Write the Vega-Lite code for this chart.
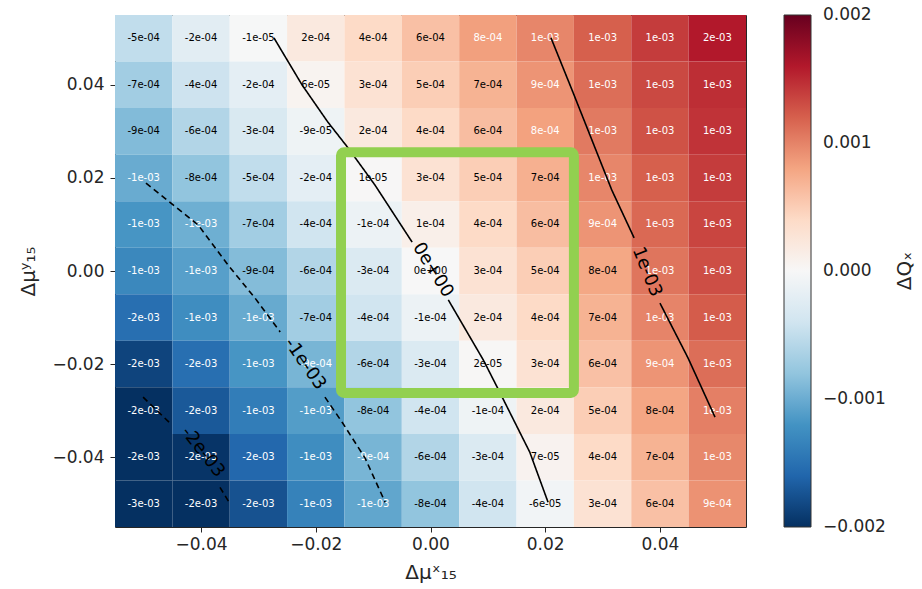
{
  "$schema": "https://vega.github.io/schema/vega-lite/v6.json",
  "width": 631,
  "height": 512,
  "autosize": {"type": "none"},
  "padding": {"left": 115, "top": 15, "right": 176, "bottom": 62},
  "background": "white",
  "config": {
    "view": {"stroke": "#262626", "strokeWidth": 1},
    "font": "DejaVu Sans",
    "axis": {
      "labelFont": "DejaVu Sans", "labelFontSize": 17, "labelColor": "#262626",
      "tickColor": "#262626", "tickSize": 5, "tickWidth": 1,
      "domain": false, "grid": false,
      "titleFont": "DejaVu Sans", "titleFontSize": 20, "titleFontWeight": "normal", "titleColor": "#262626"
    },
    "legend": {
      "labelFont": "DejaVu Sans", "labelFontSize": 17, "labelColor": "#262626",
      "titleFont": "DejaVu Sans", "titleFontSize": 20, "titleFontWeight": "normal", "titleColor": "#262626"
    }
  },
  "datasets": {
    "cells": [
      {"x": -0.05, "y": 0.05, "v": -0.00050}, {"x": -0.04, "y": 0.05, "v": -0.00022}, {"x": -0.03, "y": 0.05, "v": -0.00001}, {"x": -0.02, "y": 0.05, "v": 0.00020}, {"x": -0.01, "y": 0.05, "v": 0.00040}, {"x": 0, "y": 0.05, "v": 0.00060}, {"x": 0.01, "y": 0.05, "v": 0.00083}, {"x": 0.02, "y": 0.05, "v": 0.00098}, {"x": 0.03, "y": 0.05, "v": 0.00120}, {"x": 0.04, "y": 0.05, "v": 0.00140}, {"x": 0.05, "y": 0.05, "v": 0.00160},
      {"x": -0.05, "y": 0.04, "v": -0.00070}, {"x": -0.04, "y": 0.04, "v": -0.00042}, {"x": -0.03, "y": 0.04, "v": -0.00020}, {"x": -0.02, "y": 0.04, "v": 0.00006}, {"x": -0.01, "y": 0.04, "v": 0.00030}, {"x": 0, "y": 0.04, "v": 0.00050}, {"x": 0.01, "y": 0.04, "v": 0.00070}, {"x": 0.02, "y": 0.04, "v": 0.00090}, {"x": 0.03, "y": 0.04, "v": 0.00112}, {"x": 0.04, "y": 0.04, "v": 0.00133}, {"x": 0.05, "y": 0.04, "v": 0.00148},
      {"x": -0.05, "y": 0.03, "v": -0.00088}, {"x": -0.04, "y": 0.03, "v": -0.00060}, {"x": -0.03, "y": 0.03, "v": -0.00032}, {"x": -0.02, "y": 0.03, "v": -0.00009}, {"x": -0.01, "y": 0.03, "v": 0.00020}, {"x": 0, "y": 0.03, "v": 0.00040}, {"x": 0.01, "y": 0.03, "v": 0.00062}, {"x": 0.02, "y": 0.03, "v": 0.00082}, {"x": 0.03, "y": 0.03, "v": 0.00105}, {"x": 0.04, "y": 0.03, "v": 0.00128}, {"x": 0.05, "y": 0.03, "v": 0.00145},
      {"x": -0.05, "y": 0.02, "v": -0.00101}, {"x": -0.04, "y": 0.02, "v": -0.00080}, {"x": -0.03, "y": 0.02, "v": -0.00050}, {"x": -0.02, "y": 0.02, "v": -0.00020}, {"x": -0.01, "y": 0.02, "v": 0.00001}, {"x": 0, "y": 0.02, "v": 0.00030}, {"x": 0.01, "y": 0.02, "v": 0.00050}, {"x": 0.02, "y": 0.02, "v": 0.00072}, {"x": 0.03, "y": 0.02, "v": 0.00098}, {"x": 0.04, "y": 0.02, "v": 0.00120}, {"x": 0.05, "y": 0.02, "v": 0.00140},
      {"x": -0.05, "y": 0.01, "v": -0.00118}, {"x": -0.04, "y": 0.01, "v": -0.00098}, {"x": -0.03, "y": 0.01, "v": -0.00070}, {"x": -0.02, "y": 0.01, "v": -0.00040}, {"x": -0.01, "y": 0.01, "v": -0.00012}, {"x": 0, "y": 0.01, "v": 0.00012}, {"x": 0.01, "y": 0.01, "v": 0.00040}, {"x": 0.02, "y": 0.01, "v": 0.00062}, {"x": 0.03, "y": 0.01, "v": 0.00090}, {"x": 0.04, "y": 0.01, "v": 0.00115}, {"x": 0.05, "y": 0.01, "v": 0.00135},
      {"x": -0.05, "y": 0, "v": -0.00130}, {"x": -0.04, "y": 0, "v": -0.00110}, {"x": -0.03, "y": 0, "v": -0.00087}, {"x": -0.02, "y": 0, "v": -0.00060}, {"x": -0.01, "y": 0, "v": -0.00030}, {"x": 0, "y": 0, "v": 0}, {"x": 0.01, "y": 0, "v": 0.00030}, {"x": 0.02, "y": 0, "v": 0.00050}, {"x": 0.03, "y": 0, "v": 0.00078}, {"x": 0.04, "y": 0, "v": 0.00108}, {"x": 0.05, "y": 0, "v": 0.00130},
      {"x": -0.05, "y": -0.01, "v": -0.00152}, {"x": -0.04, "y": -0.01, "v": -0.00125}, {"x": -0.03, "y": -0.01, "v": -0.00102}, {"x": -0.02, "y": -0.01, "v": -0.00070}, {"x": -0.01, "y": -0.01, "v": -0.00040}, {"x": 0, "y": -0.01, "v": -0.00012}, {"x": 0.01, "y": -0.01, "v": 0.00020}, {"x": 0.02, "y": -0.01, "v": 0.00040}, {"x": 0.03, "y": -0.01, "v": 0.00070}, {"x": 0.04, "y": -0.01, "v": 0.00099}, {"x": 0.05, "y": -0.01, "v": 0.00122},
      {"x": -0.05, "y": -0.02, "v": -0.00185}, {"x": -0.04, "y": -0.02, "v": -0.00152}, {"x": -0.03, "y": -0.02, "v": -0.00118}, {"x": -0.02, "y": -0.02, "v": -0.00093}, {"x": -0.01, "y": -0.02, "v": -0.00060}, {"x": 0, "y": -0.02, "v": -0.00030}, {"x": 0.01, "y": -0.02, "v": 0.00002}, {"x": 0.02, "y": -0.02, "v": 0.00030}, {"x": 0.03, "y": -0.02, "v": 0.00060}, {"x": 0.04, "y": -0.02, "v": 0.00090}, {"x": 0.05, "y": -0.02, "v": 0.00112},
      {"x": -0.05, "y": -0.03, "v": -0.00205}, {"x": -0.04, "y": -0.03, "v": -0.00170}, {"x": -0.03, "y": -0.03, "v": -0.00140}, {"x": -0.02, "y": -0.03, "v": -0.00112}, {"x": -0.01, "y": -0.03, "v": -0.00080}, {"x": 0, "y": -0.03, "v": -0.00040}, {"x": 0.01, "y": -0.03, "v": -0.00010}, {"x": 0.02, "y": -0.03, "v": 0.00020}, {"x": 0.03, "y": -0.03, "v": 0.00050}, {"x": 0.04, "y": -0.03, "v": 0.00079}, {"x": 0.05, "y": -0.03, "v": 0.00102},
      {"x": -0.05, "y": -0.04, "v": -0.00230}, {"x": -0.04, "y": -0.04, "v": -0.00197}, {"x": -0.03, "y": -0.04, "v": -0.00158}, {"x": -0.02, "y": -0.04, "v": -0.00125}, {"x": -0.01, "y": -0.04, "v": -0.00093}, {"x": 0, "y": -0.04, "v": -0.00060}, {"x": 0.01, "y": -0.04, "v": -0.00030}, {"x": 0.02, "y": -0.04, "v": 0.00007}, {"x": 0.03, "y": -0.04, "v": 0.00040}, {"x": 0.04, "y": -0.04, "v": 0.00070}, {"x": 0.05, "y": -0.04, "v": 0.00097},
      {"x": -0.05, "y": -0.05, "v": -0.00260}, {"x": -0.04, "y": -0.05, "v": -0.00225}, {"x": -0.03, "y": -0.05, "v": -0.00175}, {"x": -0.02, "y": -0.05, "v": -0.00135}, {"x": -0.01, "y": -0.05, "v": -0.00105}, {"x": 0, "y": -0.05, "v": -0.00080}, {"x": 0.01, "y": -0.05, "v": -0.00040}, {"x": 0.02, "y": -0.05, "v": -0.00006}, {"x": 0.03, "y": -0.05, "v": 0.00030}, {"x": 0.04, "y": -0.05, "v": 0.00060}, {"x": 0.05, "y": -0.05, "v": 0.00091}
    ],
    "contours": [
      {"lvl": 0, "seg": "0a", "x": -0.0273, "y": 0.0501}, {"lvl": 0, "seg": "0a", "x": -0.0224, "y": 0.0400}, {"lvl": 0, "seg": "0a", "x": -0.0179, "y": 0.0320}, {"lvl": 0, "seg": "0a", "x": -0.0144, "y": 0.0265}, {"lvl": 0, "seg": "0a", "x": -0.0097, "y": 0.0185}, {"lvl": 0, "seg": "0a", "x": -0.0032, "y": 0.0062},
      {"lvl": 0, "seg": "0b", "x": 0.0031, "y": -0.0062}, {"lvl": 0, "seg": "0b", "x": 0.0092, "y": -0.0191}, {"lvl": 0, "seg": "0b", "x": 0.0116, "y": -0.0249}, {"lvl": 0, "seg": "0b", "x": 0.0173, "y": -0.0389}, {"lvl": 0, "seg": "0b", "x": 0.0205, "y": -0.0497},
      {"lvl": 0.001, "seg": "1a", "x": 0.0210, "y": 0.0501}, {"lvl": 0.001, "seg": "1a", "x": 0.0248, "y": 0.0385}, {"lvl": 0.001, "seg": "1a", "x": 0.0316, "y": 0.0174}, {"lvl": 0.001, "seg": "1a", "x": 0.0355, "y": 0.0071},
      {"lvl": 0.001, "seg": "1b", "x": 0.0400, "y": -0.0069}, {"lvl": 0.001, "seg": "1b", "x": 0.0449, "y": -0.0187}, {"lvl": 0.001, "seg": "1b", "x": 0.0496, "y": -0.0314},
      {"lvl": -0.001, "seg": "m1a", "x": -0.0496, "y": 0.0189}, {"lvl": -0.001, "seg": "m1a", "x": -0.0405, "y": 0.0099}, {"lvl": -0.001, "seg": "m1a", "x": -0.0353, "y": 0.0013}, {"lvl": -0.001, "seg": "m1a", "x": -0.0306, "y": -0.0058}, {"lvl": -0.001, "seg": "m1a", "x": -0.0262, "y": -0.0131},
      {"lvl": -0.001, "seg": "m1b", "x": -0.0184, "y": -0.0271}, {"lvl": -0.001, "seg": "m1b", "x": -0.0154, "y": -0.0325}, {"lvl": -0.001, "seg": "m1b", "x": -0.0114, "y": -0.0402}, {"lvl": -0.001, "seg": "m1b", "x": -0.0079, "y": -0.0497},
      {"lvl": -0.002, "seg": "m2a", "x": -0.0501, "y": -0.0271}, {"lvl": -0.002, "seg": "m2a", "x": -0.0454, "y": -0.0327},
      {"lvl": -0.002, "seg": "m2b", "x": -0.0367, "y": -0.0465}, {"lvl": -0.002, "seg": "m2b", "x": -0.0350, "y": -0.0499}
    ],
    "clabels": [
      {"x": 0.0004, "y": 0.0002, "t": "0e+00", "rot": 58},
      {"x": 0.0377, "y": -0.0002, "t": "1e-03", "rot": 68},
      {"x": -0.0219, "y": -0.0200, "t": "-1e-03", "rot": 55},
      {"x": -0.0397, "y": -0.0389, "t": "-2e-03", "rot": 52}
    ],
    "box": [
      {"x": -0.0156, "x2": 0.0250, "y": 0.0255, "y2": -0.0262}
    ]
  },
  "encoding": {
    "x": {
      "field": "x", "type": "quantitative",
      "scale": {"domain": [-0.055, 0.055], "nice": false, "zero": false},
      "axis": {"values": [-0.04, -0.02, 0, 0.02, 0.04], "format": ".2f", "labelPadding": 4, "title": "Δμˣ₁₅", "titlePadding": 10}
    },
    "y": {
      "field": "y", "type": "quantitative",
      "scale": {"domain": [-0.055, 0.055], "nice": false, "zero": false},
      "axis": {"values": [-0.04, -0.02, 0, 0.02, 0.04], "format": ".2f", "labelPadding": 6, "title": "Δμʸ₁₅", "titlePadding": 13}
    }
  },
  "layer": [
    {
      "data": {"name": "cells"},
      "mark": {"type": "rect", "width": {"expr": "width/11"}, "height": {"expr": "height/11"}},
      "encoding": {
        "color": {
          "field": "v", "type": "quantitative",
          "scale": {
            "domain": [-0.002, -0.0016, -0.0012, -0.0008, -0.0004, 0, 0.0004, 0.0008, 0.0012, 0.0016, 0.002],
            "range": ["#053061", "#2166ac", "#4393c3", "#92c5de", "#d1e5f0", "#f7f7f7", "#fddbc7", "#f4a582", "#d6604d", "#b2182b", "#67001f"],
            "interpolate": "rgb", "clamp": true
          },
          "legend": {
            "orient": "none", "legendX": 669, "legendY": 0, "direction": "vertical",
            "gradientLength": 512, "gradientThickness": 27,
            "gradientStrokeColor": "#333333", "gradientStrokeWidth": 1,
            "values": [-0.002, -0.001, 0, 0.001, 0.002], "format": ".3f",
            "labelOffset": 12,
            "title": "ΔQₓ", "titleOrient": "right", "titleAnchor": "middle", "titlePadding": 29,
            "encode": {
              "labels": {"update": {"baseline": {"value": "middle"}}},
              "title": {"update": {"angle": {"value": -90}}}
            }
          }
        }
      }
    },
    {
      "data": {"name": "cells"},
      "transform": [
        {"calculate": "replace(replace(replace(format(datum.v, '.0e'), 'e-', 'e-0'), 'e+', 'e+0'), '−', '-')", "as": "lab"}
      ],
      "mark": {"type": "text", "font": "DejaVu Sans", "fontSize": 10, "align": "center", "baseline": "middle"},
      "encoding": {
        "text": {"field": "lab"},
        "color": {"condition": {"test": "datum.v > 0.0008 || datum.v < -0.0009", "value": "white"}, "value": "black"}
      }
    },
    {
      "data": {"name": "contours"},
      "mark": {"type": "line", "color": "black", "strokeWidth": 1.6},
      "encoding": {
        "detail": {"field": "seg"},
        "strokeDash": {"condition": {"test": "datum.lvl < 0", "value": [6, 4]}, "value": [1, 0]}
      }
    },
    {
      "data": {"name": "clabels"},
      "mark": {"type": "text", "font": "DejaVu Sans", "fontSize": 18, "color": "black", "align": "center", "baseline": "middle"},
      "encoding": {
        "text": {"field": "t"},
        "angle": {"field": "rot", "type": "quantitative", "scale": null}
      }
    },
    {
      "data": {"name": "box"},
      "mark": {"type": "rect", "fillOpacity": 0, "stroke": "#92d050", "strokeWidth": 10, "strokeJoin": "round", "cornerRadius": 3},
      "encoding": {
        "x2": {"field": "x2"},
        "y2": {"field": "y2"}
      }
    }
  ]
}
